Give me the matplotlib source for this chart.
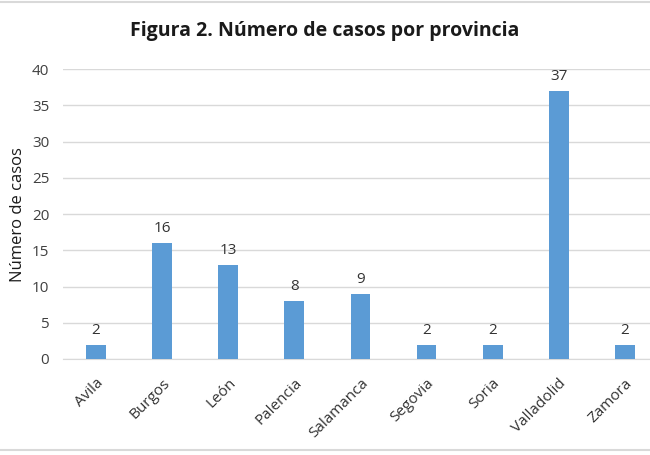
import matplotlib
matplotlib.use("Agg")
import matplotlib.pyplot as plt
from matplotlib.lines import Line2D

provincias = ["Avila", "Burgos", "León", "Palencia", "Salamanca", "Segovia", "Soria", "Valladolid", "Zamora"]
casos = [2, 16, 13, 8, 9, 2, 2, 37, 2]
yticks = [0, 5, 10, 15, 20, 25, 30, 35, 40]

plt.rcParams['font.family'] = ['Open Sans', 'DejaVu Sans']

fig = plt.figure(figsize=(6.5, 4.55), dpi=100)
ax = fig.add_axes([0.097, 0.211, 0.915, 0.637])
x = list(range(len(provincias)))
ax.bar(x, casos, width=0.3, color="#5B9BD5", zorder=3)
for xi, v in zip(x, casos):
    ax.annotate(str(v), (xi, v), xytext=(0, 5), textcoords="offset points",
                ha="center", va="bottom", fontsize=11, color="#333333")

ax.set_xlim(-0.5, len(provincias) - 0.5)
ax.set_ylim(0, 40)
ax.set_yticks(yticks)
ax.set_yticklabels([str(t) for t in yticks], fontsize=11, color="#404040")
ax.set_xticks(x)
ax.set_xticklabels(provincias, rotation=45, ha="right", rotation_mode="anchor", fontsize=11, color="#333333")
ax.tick_params(axis="y", length=0, pad=10)
ax.tick_params(axis="x", length=0, pad=12)
ax.yaxis.grid(True, color="#d9d9d9", linewidth=1, zorder=0)
for s in ["top", "right", "left"]:
    ax.spines[s].set_visible(False)
ax.spines["bottom"].set_color("#d9d9d9")
ax.set_ylabel("Número de casos", fontsize=12, color="#1a1a1a", labelpad=4)

fig.text(0.5, 0.932, "Figura 2. Número de casos por provincia", ha="center", va="center",
         fontsize=14, fontweight="bold", color="#1a1a1a")

fig.add_artist(Line2D([0, 1], [0.995, 0.995], color="#d9d9d9", linewidth=1.5, transform=fig.transFigure))
fig.add_artist(Line2D([0, 1], [0.01, 0.01], color="#d9d9d9", linewidth=1.5, transform=fig.transFigure))

fig.savefig("out.png", dpi=100)
